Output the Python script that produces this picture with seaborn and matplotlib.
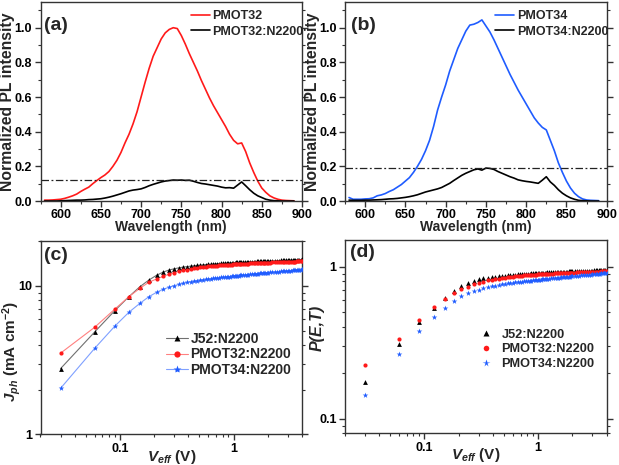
import matplotlib
matplotlib.use('Agg')
import matplotlib.pyplot as plt
import numpy as np
import pandas as pd
import seaborn as sns
from matplotlib.ticker import MultipleLocator, LogLocator, NullFormatter, FuncFormatter
from matplotlib.lines import Line2D

# ---------------- data: PL spectra ----------------
wavelength = [580, 585, 590, 595, 600, 605, 610, 615, 620, 625,
              630, 635, 640, 645, 650, 655, 660, 665, 670, 675,
              680, 685, 690, 695, 700, 705, 710, 715, 720, 725,
              730, 735, 740, 745, 750, 755, 760, 765, 770, 775,
              780, 785, 790, 795, 800, 805, 810, 815, 820, 825,
              830, 835, 840, 845, 850, 855, 860, 865, 870, 875,
              880, 885, 890]
pl_pmot32 = [0.005, 0.005, 0.006, 0.008, 0.010, 0.015, 0.022, 0.030, 0.040, 0.055,
             0.068, 0.080, 0.100, 0.118, 0.135, 0.150, 0.170, 0.200, 0.235, 0.280,
             0.335, 0.385, 0.445, 0.515, 0.600, 0.685, 0.765, 0.835, 0.885, 0.935,
             0.970, 0.990, 1.000, 0.995, 0.955, 0.905, 0.850, 0.800, 0.750, 0.695,
             0.645, 0.595, 0.550, 0.510, 0.470, 0.430, 0.385, 0.350, 0.330, 0.335,
             0.285, 0.220, 0.165, 0.115, 0.075, 0.050, 0.030, 0.018, 0.010, 0.005,
             0.003, 0.002, 0.001]
pl_pmot32_n2200 = [0.000, 0.000, 0.000, 0.000, 0.001, 0.002, 0.003, 0.004, 0.005, 0.005,
                   0.006, 0.008, 0.009, 0.011, 0.013, 0.017, 0.022, 0.028, 0.035, 0.042,
                   0.050, 0.058, 0.063, 0.066, 0.070, 0.078, 0.088, 0.096, 0.103, 0.110,
                   0.115, 0.118, 0.121, 0.120, 0.121, 0.119, 0.120, 0.114, 0.107, 0.101,
                   0.098, 0.094, 0.090, 0.086, 0.080, 0.076, 0.077, 0.074, 0.092, 0.110,
                   0.088, 0.065, 0.045, 0.030, 0.020, 0.010, 0.005, 0.002, 0.001, 0.000,
                   0.000, 0.000, 0.000]
pl_pmot34 = [0.020, 0.010, 0.010, 0.010, 0.012, 0.013, 0.018, 0.030, 0.035, 0.043,
             0.055, 0.065, 0.080, 0.095, 0.115, 0.135, 0.165, 0.200, 0.240, 0.290,
             0.350, 0.430, 0.525, 0.600, 0.670, 0.750, 0.815, 0.880, 0.930, 0.980,
             1.015, 1.020, 1.030, 1.045, 1.010, 0.975, 0.930, 0.880, 0.830, 0.780,
             0.730, 0.685, 0.640, 0.600, 0.560, 0.520, 0.480, 0.450, 0.425, 0.410,
             0.350, 0.290, 0.220, 0.165, 0.115, 0.075, 0.045, 0.025, 0.012, 0.006,
             0.004, 0.003, 0.002]
pl_pmot34_n2200 = [0.005, 0.004, 0.004, 0.004, 0.005, 0.005, 0.006, 0.007, 0.008, 0.010,
                   0.012, 0.013, 0.015, 0.018, 0.021, 0.025, 0.030, 0.036, 0.044, 0.052,
                   0.058, 0.064, 0.070, 0.078, 0.090, 0.102, 0.118, 0.133, 0.148, 0.160,
                   0.170, 0.180, 0.185, 0.178, 0.190, 0.188, 0.182, 0.170, 0.160, 0.150,
                   0.140, 0.132, 0.122, 0.117, 0.113, 0.110, 0.106, 0.102, 0.120, 0.140,
                   0.110, 0.090, 0.065, 0.045, 0.030, 0.018, 0.010, 0.004, 0.002, 0.001,
                   0.000, 0.000, 0.000]
quench_level_32 = 0.12
quench_level_34 = 0.19

# ---------------- data: Jph vs Veff ----------------
v_eff = [0.03, 0.06, 0.09, 0.12, 0.15, 0.18, 0.21, 0.24, 0.27, 0.30,
         0.33, 0.36, 0.39, 0.42, 0.45, 0.48, 0.51, 0.54, 0.57, 0.60,
         0.63, 0.66, 0.69, 0.72, 0.75, 0.78, 0.81, 0.84, 0.87, 0.90,
         0.93, 0.96, 0.99, 1.02, 1.05, 1.08, 1.11, 1.14, 1.17, 1.20,
         1.25, 1.30, 1.35, 1.40, 1.45, 1.50, 1.55, 1.60, 1.65, 1.70,
         1.75, 1.80, 1.85, 1.90, 1.95, 2.00,
         2.1, 2.2, 2.3, 2.4, 2.5, 2.6, 2.7, 2.8, 2.9, 3.0,
         3.1, 3.2, 3.3, 3.4, 3.5, 3.6, 3.7, 3.8, 3.9, 4.0]
jph_j52 = [2.77, 4.90, 6.81, 8.47, 9.89, 10.97, 11.8, 12.4, 12.8, 13.05,
           13.25, 13.4, 13.5, 13.6, 13.68, 13.75, 13.82, 13.88, 13.93, 13.98,
           14.02, 14.06, 14.1, 14.13, 14.16, 14.19, 14.22, 14.25, 14.27, 14.3,
           14.32, 14.34, 14.36, 14.38, 14.4, 14.42, 14.43, 14.45, 14.46, 14.48,
           14.5, 14.52, 14.54, 14.56, 14.58, 14.6, 14.61, 14.63, 14.64, 14.66,
           14.67, 14.68, 14.7, 14.71, 14.72, 14.73,
           14.75, 14.77, 14.79, 14.81, 14.83, 14.85, 14.87, 14.89, 14.9, 14.92,
           14.94, 14.95, 14.97, 14.99, 15.0, 15.02, 15.04, 15.05, 15.07, 15.08]
jph_pmot32 = [3.52, 5.27, 6.97, 8.47, 9.65, 10.6, 11.15, 11.6, 12.0, 12.3,
              12.55, 12.75, 12.9, 13.02, 13.13, 13.23, 13.32, 13.4, 13.47, 13.53,
              13.58, 13.63, 13.67, 13.71, 13.75, 13.78, 13.81, 13.84, 13.87, 13.9,
              13.92, 13.95, 13.97, 13.99, 14.01, 14.03, 14.05, 14.07, 14.08, 14.1,
              14.12, 14.15, 14.17, 14.19, 14.21, 14.23, 14.24, 14.26, 14.27, 14.29,
              14.3, 14.31, 14.33, 14.34, 14.35, 14.36,
              14.38, 14.4, 14.42, 14.44, 14.46, 14.47, 14.49, 14.5, 14.52, 14.53,
              14.55, 14.56, 14.58, 14.59, 14.6, 14.62, 14.63, 14.64, 14.66, 14.67]
jph_pmot34 = [2.04, 3.80, 5.35, 6.65, 7.64, 8.47, 9.06, 9.5, 9.8, 10.05,
              10.25, 10.42, 10.56, 10.68, 10.78, 10.87, 10.95, 11.02, 11.08, 11.14,
              11.19, 11.24, 11.29, 11.33, 11.37, 11.41, 11.45, 11.48, 11.52, 11.55,
              11.58, 11.61, 11.64, 11.67, 11.7, 11.72, 11.75, 11.77, 11.8, 11.82,
              11.86, 11.9, 11.93, 11.97, 12.0, 12.03, 12.06, 12.09, 12.12, 12.14,
              12.17, 12.2, 12.22, 12.24, 12.27, 12.29,
              12.33, 12.37, 12.41, 12.45, 12.48, 12.52, 12.55, 12.58, 12.61, 12.64,
              12.67, 12.7, 12.73, 12.76, 12.79, 12.82, 12.85, 12.88, 12.91, 12.94]
# saturation photocurrents, P(E,T) = Jph / Jsat
jsat_j52 = 15.8
jsat_pmot32 = 15.7
jsat_pmot34 = 14.2

series_names = ['J52:N2200', 'PMOT32:N2200', 'PMOT34:N2200']

# ---------------- style ----------------
sns.set_theme(style='ticks')
plt.rcParams['font.family'] = ['Liberation Sans', 'DejaVu Sans']
plt.rcParams['font.weight'] = 'bold'
plt.rcParams['axes.labelweight'] = 'bold'
plt.rcParams['mathtext.fontset'] = 'custom'
plt.rcParams['mathtext.rm'] = 'Liberation Sans:bold'
plt.rcParams['mathtext.bf'] = 'Liberation Sans:bold'
plt.rcParams['mathtext.it'] = 'Liberation Sans:italic:bold'
plt.rcParams['axes.edgecolor'] = '#333333'
plt.rcParams['axes.linewidth'] = 1.0

RED = '#ff1a1a'
BLUE = '#1f5cff'
BLACK = '#000000'

TICK_FS = 9
PANEL_FS = 14

W, H = 619, 465
fig = plt.figure(figsize=(W / 100, H / 100), dpi=100)


def axes_px(left, top, right, bottom):
    return fig.add_axes([left / W, 1 - bottom / H, (right - left) / W, (bottom - top) / H])


ax_a = axes_px(40.5, 1.7, 302, 201)
ax_b = axes_px(345, 1.7, 606.7, 201)
ax_c = axes_px(40.5, 241.3, 302, 434.3)
ax_d = axes_px(345, 240, 606.7, 433.3)


def style_ticks(ax):
    ax.tick_params(which='both', direction='out', right=True, top=False,
                   labelright=False, colors='#333333', labelcolor='black',
                   labelsize=TICK_FS, pad=2)
    ax.tick_params(which='major', length=4, width=1)
    ax.tick_params(which='minor', length=2, width=0.8)
    for lab in ax.get_xticklabels() + ax.get_yticklabels():
        lab.set_fontweight('bold')


def place_labels(ax, xlab, ylab, xfs, yfs, xpos, ypos, ystyle='normal'):
    ax.set_xlabel(xlab, fontsize=xfs, fontweight='bold')
    ax.set_ylabel(ylab, fontsize=yfs, fontweight='bold', fontstyle=ystyle)
    ax.xaxis.set_label_coords(*xpos)
    ax.yaxis.set_label_coords(*ypos)
    ax.xaxis.label.set_va('center')
    ax.yaxis.label.set_va('center')


# ---------------- PL panels ----------------
pl_df = pd.DataFrame({'wavelength': wavelength,
                      'PMOT32': pl_pmot32, 'PMOT32:N2200': pl_pmot32_n2200,
                      'PMOT34': pl_pmot34, 'PMOT34:N2200': pl_pmot34_n2200})

for ax, neat, blend, col, level, tag, ylx, tagx in [
        (ax_a, 'PMOT32', 'PMOT32:N2200', RED, quench_level_32, '(a)', -0.125, 0.015),
        (ax_b, 'PMOT34', 'PMOT34:N2200', BLUE, quench_level_34, '(b)', -0.125, 0.024)]:
    sns.lineplot(data=pl_df, x='wavelength', y=neat, color=col, lw=1.2, ax=ax, label=neat)
    sns.lineplot(data=pl_df, x='wavelength', y=blend, color=BLACK, lw=1.2, ax=ax, label=blend)
    ax.axhline(level, color='#222222', lw=0.9, ls=(0, (6, 2, 1.5, 2)))
    ax.set_xlim(575, 900)
    ax.set_ylim(0, 1.15)
    ax.xaxis.set_major_locator(MultipleLocator(50))
    ax.xaxis.set_minor_locator(MultipleLocator(25))
    ax.yaxis.set_major_locator(MultipleLocator(0.2))
    ax.yaxis.set_minor_locator(MultipleLocator(0.1))
    ax.yaxis.set_major_formatter(FuncFormatter(lambda v, p: f'{v:.1f}' if v <= 1.05 else ''))
    place_labels(ax, 'Wavelength (nm)', 'Normalized PL intensity', 10, 11.3,
                 (0.5, -0.13), (ylx, 0.5))
    style_ticks(ax)
    leg = ax.legend(loc='upper left', bbox_to_anchor=(0.575, 0.958), frameon=False,
                    fontsize=9, handlelength=1.5, handletextpad=0.2,
                    labelspacing=0.3, borderpad=0, borderaxespad=0)
    for t in leg.get_texts():
        t.set_fontweight('bold')
    ax.text(tagx, 0.883, tag, transform=ax.transAxes, fontsize=PANEL_FS,
            fontweight='bold', va='center', ha='left')

# ---------------- Jph / P(E,T) panels ----------------
n = len(v_eff)
jdf = pd.DataFrame({'v': v_eff * 3,
                    'jph': jph_j52 + jph_pmot32 + jph_pmot34,
                    'jsat': [jsat_j52] * n + [jsat_pmot32] * n + [jsat_pmot34] * n,
                    'blend': [series_names[0]] * n + [series_names[1]] * n + [series_names[2]] * n})
jdf['p'] = jdf['jph'] / jdf['jsat']

mk_colors = {series_names[0]: BLACK, series_names[1]: RED, series_names[2]: BLUE}
line_colors = {series_names[0]: '#707070', series_names[1]: '#ff8080', series_names[2]: '#7fa0ff'}
markers = {series_names[0]: '^', series_names[1]: 'o', series_names[2]: '*'}
msizes = {series_names[0]: 12, series_names[1]: 9, series_names[2]: 18}

for ax in (ax_c, ax_d):
    ax.set_xscale('log')
    ax.set_yscale('log')

for name in series_names:
    sub = jdf[jdf['blend'] == name]
    sns.lineplot(data=sub, x='v', y='jph', color=line_colors[name], lw=0.8, ax=ax_c,
                 legend=False, zorder=2)
    sns.scatterplot(data=sub, x='v', y='jph', color=mk_colors[name], marker=markers[name],
                    s=msizes[name], linewidth=0, ax=ax_c, legend=False, zorder=3)
    sns.scatterplot(data=sub, x='v', y='p', color=mk_colors[name], marker=markers[name],
                    s=msizes[name], linewidth=0, ax=ax_d, legend=False, zorder=3)

ax_c.set_xlim(0.02, 4)
ax_c.set_ylim(1, 20)
ax_d.set_xlim(0.02, 4)
ax_d.set_ylim(0.08, 1.5)

for ax in (ax_c, ax_d):
    ax.xaxis.set_major_locator(LogLocator(base=10, numticks=10))
    ax.xaxis.set_minor_locator(LogLocator(base=10, subs=np.arange(2, 10), numticks=20))
    ax.yaxis.set_major_locator(LogLocator(base=10, numticks=10))
    ax.yaxis.set_minor_locator(LogLocator(base=10, subs=np.arange(2, 10), numticks=20))
    ax.xaxis.set_major_formatter(FuncFormatter(lambda v, p: f'{v:g}'))
    ax.yaxis.set_major_formatter(FuncFormatter(lambda v, p: f'{v:g}'))
    ax.xaxis.set_minor_formatter(NullFormatter())
    ax.yaxis.set_minor_formatter(NullFormatter())
    style_ticks(ax)

place_labels(ax_c, r'$V_{eff}$ (V)', r'$J_{ph}$ (mA cm$^{-2}$)', 11, 11,
             (0.5, -0.118), (-0.112, 0.43))
place_labels(ax_d, r'$V_{eff}$ (V)', 'P(E,T)', 11, 11.5,
             (0.5, -0.112), (-0.105, 0.545), ystyle='italic')

handles_c = [Line2D([], [], color=line_colors[s], lw=0.8, marker=markers[s],
                    markerfacecolor=mk_colors[s], markeredgecolor='none',
                    markersize=4.5 if s != series_names[2] else 6) for s in series_names]
handles_d = [Line2D([], [], ls='none', marker=markers[s], markerfacecolor=mk_colors[s],
                    markeredgecolor='none', markersize=4 if s != series_names[2] else 5.5)
             for s in series_names]

leg_c = ax_c.legend(handles_c, series_names, loc='upper left', bbox_to_anchor=(0.48, 0.53),
                    frameon=False, fontsize=10, handlelength=1.55, handletextpad=0.2,
                    labelspacing=0.1, borderpad=0, borderaxespad=0)
leg_d = ax_d.legend(handles_d, series_names, loc='upper left', bbox_to_anchor=(0.513, 0.54),
                    frameon=False, fontsize=9.2, handlelength=1.1, handletextpad=0.65,
                    labelspacing=0.2, borderpad=0, borderaxespad=0)
for leg in (leg_c, leg_d):
    for t in leg.get_texts():
        t.set_fontweight('bold')

ax_c.text(0.015, 0.929, '(c)', transform=ax_c.transAxes, fontsize=PANEL_FS,
          fontweight='bold', va='center', ha='left')
ax_d.text(0.018, 0.933, '(d)', transform=ax_d.transAxes, fontsize=PANEL_FS,
          fontweight='bold', va='center', ha='left')

fig.savefig('out.png', dpi=100)
